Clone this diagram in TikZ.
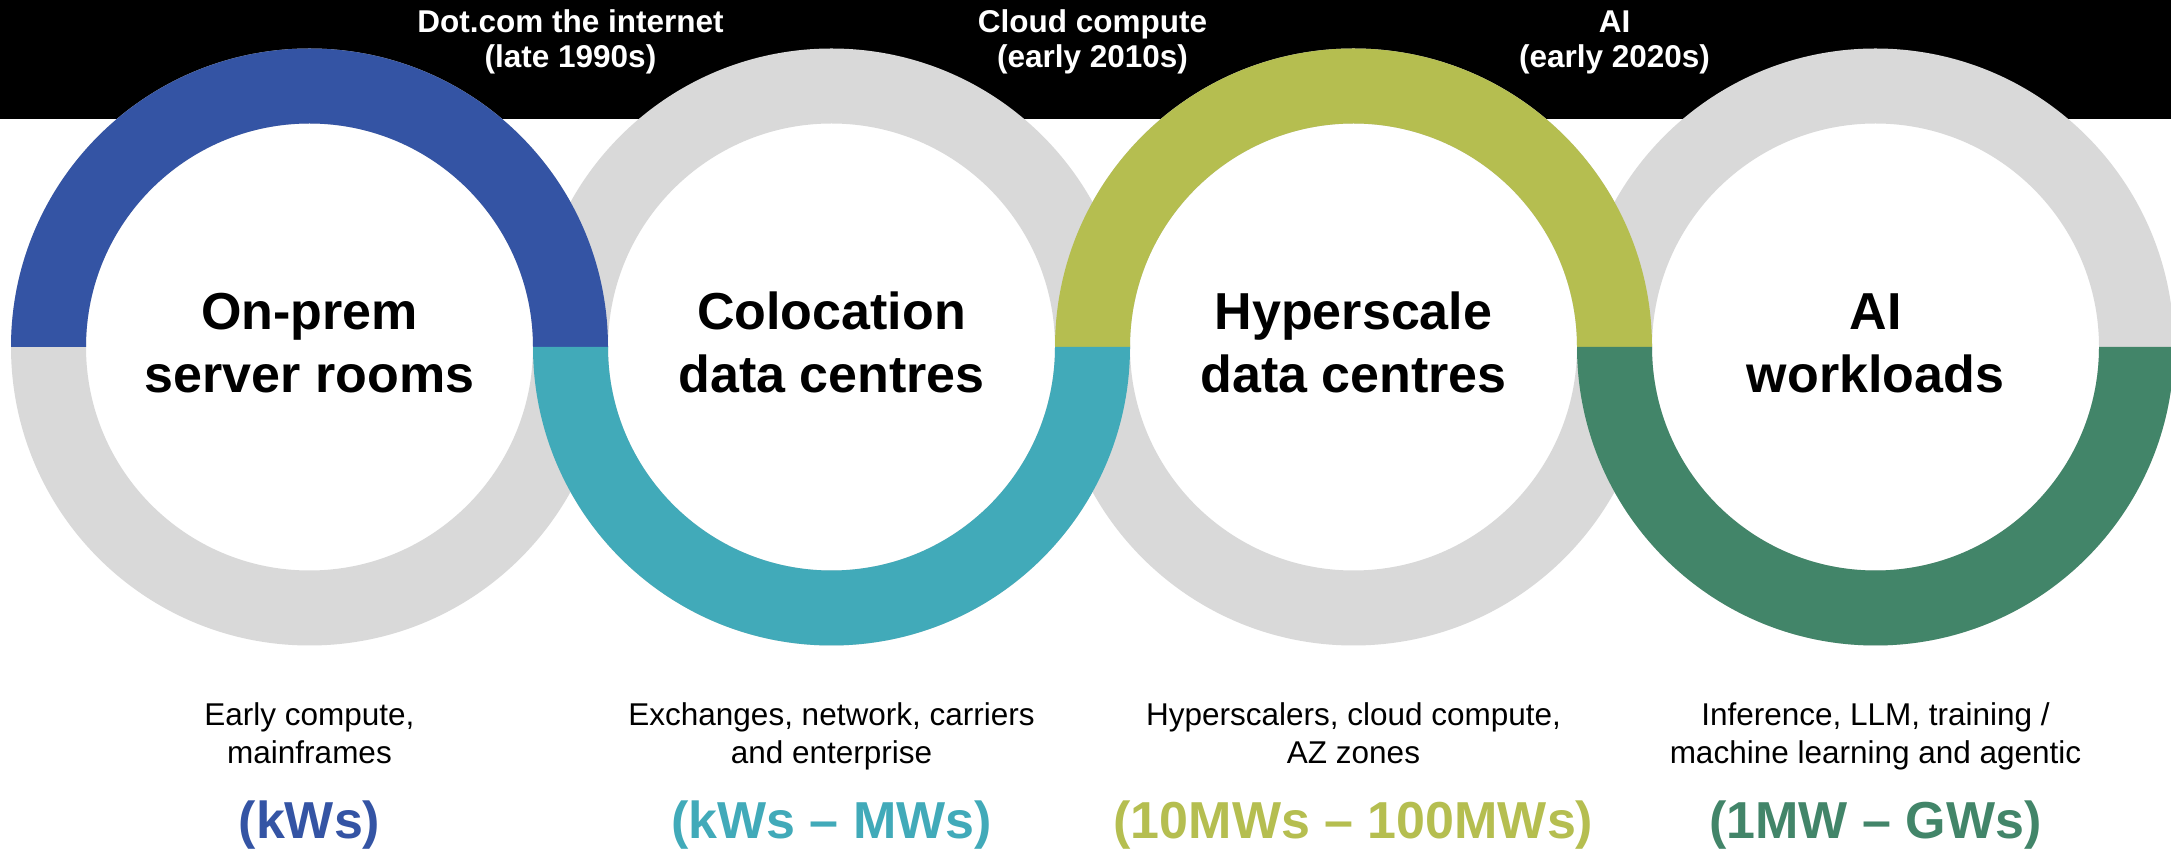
\documentclass[tikz,border=0pt]{standalone}
\usepackage{fontspec}
\setmainfont{Liberation Sans}
\definecolor{ringgray}{HTML}{D9D9D9}
\definecolor{cblue}{HTML}{3454A4}
\definecolor{cteal}{HTML}{41AAB9}
\definecolor{colive}{HTML}{B5BE50}
\definecolor{cgreen}{HTML}{428569}
\tikzset{
  ringbase/.style={fill=ringgray, even odd rule},
  title/.style={font=\fontsize{52}{63}\selectfont\bfseries, align=center, inner sep=0pt, anchor=base},
  era/.style={font=\fontsize{31.5}{35}\selectfont\bfseries, text=white, align=center, inner sep=0pt, anchor=base},
  desc/.style={font=\fontsize{31.5}{38}\selectfont, align=center, inner sep=0pt, anchor=base},
  power/.style={font=\fontsize{52}{59}\selectfont\bfseries, inner sep=0pt, anchor=base},
}
\newcommand{\Rout}{298.5}
\newcommand{\Rin}{223.5}
\begin{document}
\begin{tikzpicture}[x=1pt,y=1pt]
\useasboundingbox (0,0) rectangle (2171,849);
\fill[white] (0,0) rectangle (2171,849);
% black band
\fill[black] (0,730) rectangle (2171,849);
% centres
\coordinate (c1) at (309.5,502);
\coordinate (c2) at (831.5,502);
\coordinate (c3) at (1353.5,502);
\coordinate (c4) at (1875.5,502);
% grey rings
\foreach \c in {c1,c2,c3,c4}{
  \fill[ringbase] (\c) circle[radius=\Rout] (\c) circle[radius=\Rin];
}
% coloured halves (top)
\fill[cblue, shift={(c1)}] (-\Rout,0) arc[start angle=180,end angle=0,radius=\Rout] -- (\Rin,0) arc[start angle=0,end angle=180,radius=\Rin] -- cycle;
\fill[colive, shift={(c3)}] (-\Rout,0) arc[start angle=180,end angle=0,radius=\Rout] -- (\Rin,0) arc[start angle=0,end angle=180,radius=\Rin] -- cycle;
% coloured halves (bottom)
\fill[cteal, shift={(c2)}] (-\Rout,0) arc[start angle=180,end angle=360,radius=\Rout] -- (\Rin,0) arc[start angle=360,end angle=180,radius=\Rin] -- cycle;
\fill[cgreen, shift={(c4)}] (-\Rout,0) arc[start angle=180,end angle=360,radius=\Rout] -- (\Rin,0) arc[start angle=360,end angle=180,radius=\Rin] -- cycle;
% era labels
\node[era] (e1) at (570.5,781) {Dot.com the internet\\(late 1990s)};
\node[era] (e2) at (1092.5,781) {Cloud compute\\(early 2010s)};
\node[era] (e3) at (1614.5,781) {AI\\(early 2020s)};
% titles
\node[title] (t1) at (309.5,456) {On-prem\\server rooms};
\node[title] (t2) at (831.5,456) {Colocation\\data centres};
\node[title] (t3) at (1353.5,456) {Hyperscale\\data centres};
\node[title] (t4) at (1875.5,456) {AI\\workloads};
% descriptions
\node[desc] (d1) at (309.5,86) {Early compute,\\mainframes};
\node[desc] (d2) at (831.5,86) {Exchanges, network, carriers\\and enterprise};
\node[desc] (d3) at (1353.5,86) {Hyperscalers, cloud compute,\\AZ zones};
\node[desc] (d4) at (1875.5,86) {Inference, LLM, training /\\machine learning and agentic};
% power ranges
\node[power, text=cblue] (p1) at (309.5,11) {(kWs)};
\node[power, text=cteal] (p2) at (831.5,11) {(kWs – MWs)};
\node[power, text=colive] (p3) at (1353.5,11) {(10MWs – 100MWs)};
\node[power, text=cgreen] (p4) at (1875.5,11) {(1MW – GWs)};
\end{tikzpicture}
\end{document}
